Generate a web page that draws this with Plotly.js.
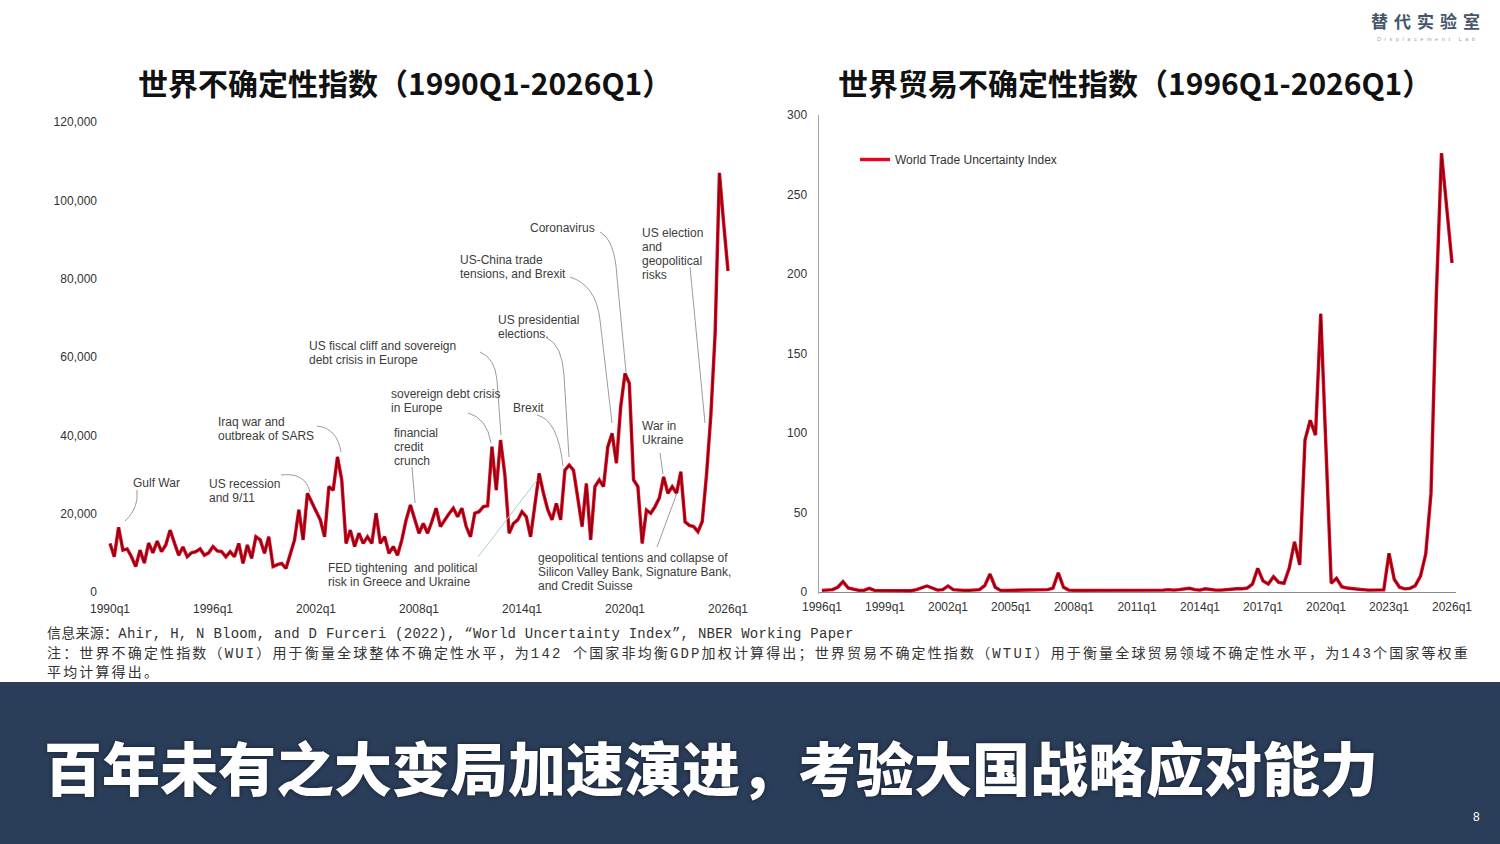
<!DOCTYPE html>
<html>
<head>
<meta charset="utf-8">
<script src="https://cdn.plot.ly/plotly-3.0.1.min.js"></script>
<style>
  html, body { margin: 0; padding: 0; background: #ffffff; }
  #chart { width: 1500px; height: 844px; }
</style>
</head>
<body>
<div id="chart"></div>
<script>
// ---- World Uncertainty Index, quarterly from 1990q1 ----
const wuiStartYear = 1990;
const wuiValues = [
  12400, 9000, 16500, 10700, 11000, 9000, 6500, 10700, 7400, 12500,
  10000, 13000, 10300, 12000, 15800, 12500, 9400, 11500, 9000, 10000,
  10300, 11000, 9400, 10000, 11600, 10500, 10300, 9000, 10300, 9000,
  12400, 7300, 12000, 8600, 14100, 13300, 9900, 14100, 6500, 7000,
  7300, 6000, 9500, 13300, 21000, 13300, 25200, 23000, 20500, 18400,
  14100, 26900, 26000, 34500, 28600, 12400, 15800, 11600, 15000, 12400,
  14100, 12400, 20100, 12400, 14100, 9900, 11600, 9400, 13300, 18400,
  22200, 18400, 15000, 17500, 15000, 18000, 21400, 16700, 18400, 20000,
  21400, 19200, 21400, 16700, 14100, 20100, 20500, 21800, 22000, 37100,
  26000, 38800, 30000, 15000, 17500, 18400, 20500, 19200, 14100, 22000,
  30300, 25200, 21000, 18400, 22600, 18400, 31100, 32400, 31100, 24000,
  16700, 27700, 13300, 26900, 28600, 26900, 37100, 40500, 32900, 47300,
  55800, 53300, 28600, 26900, 12400, 20900, 20100, 21800, 24000, 29400,
  25200, 26900, 25200, 30700, 17900, 17000, 16700, 15400, 18000, 30000,
  45000, 66000, 107000, 94000, 82000
];
const wuiTickYears = [1990, 1996, 2002, 2008, 2014, 2020, 2026];
const wuiTickLabels = ['1990q1', '1996q1', '2002q1', '2008q1', '2014q1', '2020q1', '2026q1'];
const wuiYTicks = [0, 20000, 40000, 60000, 80000, 100000, 120000];

// ---- World Trade Uncertainty Index, quarterly from 1996q1 ----
const wtuiStartYear = 1996;
const wtuiValues = [
  1.0, 1.0, 1.5, 3.0, 6.5, 2.5, 1.5, 1.0, 1.0, 2.3,
  1.0, 1.0, 0.8, 0.8, 0.8, 0.8, 0.8, 0.8, 1.5, 2.5,
  3.8, 2.5, 1.2, 1.5, 3.8, 1.5, 1.0, 1.0, 1.0, 1.0,
  1.5, 4.0, 11.3, 3.0, 1.0, 1.0, 1.0, 1.5, 1.5, 1.5,
  1.5, 1.5, 1.5, 1.5, 2.5, 12.1, 3.0, 1.2, 1.0, 1.0,
  0.8, 0.8, 0.8, 0.8, 1.0, 1.0, 1.0, 1.0, 0.8, 0.8,
  1.0, 1.0, 1.2, 1.0, 1.0, 1.2, 1.5, 1.2, 1.5, 1.8,
  2.3, 1.5, 1.2, 2.0, 1.5, 1.2, 1.2, 1.5, 2.0, 2.0,
  2.0, 2.5, 5.0, 14.9, 7.0, 5.0, 9.6, 6.0, 5.5, 15.0,
  31.6, 17.0, 95.6, 108.0, 98.7, 175.0, 90.0, 5.5, 8.6, 3.3,
  2.5, 2.0, 1.5, 1.5, 1.2, 1.2, 1.5, 1.3, 24.3, 8.0,
  3.0, 2.0, 2.3, 4.0, 10.0, 24.0, 62.0, 185.0, 276.0, 242.0,
  207.0
];
const wtuiTickYears = [1996, 1999, 2002, 2005, 2008, 2011, 2014, 2017, 2020, 2023, 2026];
const wtuiTickLabels = ['1996q1', '1999q1', '2002q1', '2005q1', '2008q1', '2011q1',
                        '2014q1', '2017q1', '2020q1', '2023q1', '2026q1'];
const wtuiYTicks = [0, 50, 100, 150, 200, 250, 300];

// ---- text ----
const leftTitle = '世界不确定性指数（1990Q1-2026Q1）';
const rightTitle = '世界贸易不确定性指数（1996Q1-2026Q1）';
const wtuiName = 'World Trade Uncertainty Index';
const sourceLine = '信息来源：Ahir, H, N Bloom, and D Furceri (2022), “World Uncertainty Index”, NBER Working Paper';
const noteLine1 = '注：世界不确定性指数（WUI）用于衡量全球整体不确定性水平，为142 个国家非均衡GDP加权计算得出；世界贸易不确定性指数（WTUI）用于衡量全球贸易领域不确定性水平，为143个国家等权重';
const noteLine2 = '平均计算得出。';
const bannerText = '百年未有之大变局加速演进，考验大国战略应对能力';
const brandName = '替代实验室';
const brandSub = 'Displacement Lab';
const pageNumber = '8';

// ---- page geometry helpers (pixel -> paper fraction) ----
const W = 1500, H = 844;
const px = x => x / W;
const py = y => 1 - y / H;
const toPaperPath = cmds => cmds.map(c => {
  const [op, ...nums] = c;
  const out = [];
  for (let k = 0; k < nums.length; k += 2) out.push(px(nums[k]).toFixed(5) + ',' + py(nums[k + 1]).toFixed(5));
  return op + out.join(' ');
}).join(' ');

// quarter index -> fractional year on the time axis
const quarterX = (start, n) => Array.from({ length: n }, (_, i) => start + i / 4);
const wuiX = quarterX(wuiStartYear, wuiValues.length);
const wtuiX = quarterX(wtuiStartYear, wtuiValues.length);

// event call-outs on the WUI panel: label lines, label anchor and leader line (page pixels)
const eventNotes = [
  { lines: ['Gulf War'], at: [132, 483], lead: [['M', 137, 490], ['L', 137, 499], ['Q', 135, 512, 125, 521]] },
  { lines: ['US recession', 'and 9/11'], at: [208, 484], lead: [['M', 281, 475], ['Q', 305, 472, 310, 492]] },
  { lines: ['Iraq war and', 'outbreak of SARS'], at: [217, 422], lead: [['M', 317, 426], ['Q', 337, 428, 341, 452]] },
  { lines: ['US fiscal cliff and sovereign', 'debt crisis in Europe'], at: [308, 346], lead: [['M', 480, 352], ['Q', 495, 358, 497, 380], ['L', 501, 435]] },
  { lines: ['sovereign debt crisis', 'in Europe'], at: [390, 394], lead: [['M', 468, 413], ['Q', 487, 418, 491, 443]] },
  { lines: ['financial', 'credit', 'crunch'], at: [393, 433], lead: [['M', 412, 467], ['L', 415, 503]] },
  { lines: ['US presidential', 'elections.'], at: [497, 320], lead: [['M', 547, 338], ['Q', 562, 345, 564, 375], ['L', 569, 457]] },
  { lines: ['US-China trade', 'tensions, and Brexit'], at: [459, 260], lead: [['M', 570, 277], ['Q', 596, 285, 600, 320], ['L', 612, 423]] },
  { lines: ['Coronavirus'], at: [529, 228], lead: [['M', 600, 232], ['Q', 615, 240, 617, 277], ['L', 626, 372]] },
  { lines: ['Brexit'], at: [512, 408], lead: [['M', 537, 415], ['Q', 558, 420, 563, 466]] },
  { lines: ['US election', 'and', 'geopolitical', 'risks'], at: [641, 233], lead: [['M', 690, 267], ['L', 705, 423]] },
  { lines: ['War in', 'Ukraine'], at: [641, 426], lead: [['M', 660, 453], ['L', 663, 474]] },
  { lines: ['FED tightening  and political', 'risk in Greece and Ukraine'], at: [327, 568], lead: [['M', 478, 557], ['L', 537, 480]], leadColor: '#a9cfcf' },
  { lines: ['geopolitical tentions and collapse of', 'Silicon Valley Bank, Signature Bank,', 'and Credit Suisse'], at: [537, 558], lead: [['M', 657, 547], ['L', 677, 493]] }
];

const latin = '"Liberation Sans", Arial, sans-serif';
const cjk = '"Noto Sans CJK SC", "Noto Sans", sans-serif';
const noteFamily = '"Liberation Mono", "Noto Sans CJK SC", monospace';
const tickFont = { family: latin, size: 12, color: '#333333' };

const lineOuter = { color: '#e2061f', width: 3.4 };
const lineInner = { color: '#7c0012', width: 1.3 };

const traces = [
  { x: wuiX, y: wuiValues, xaxis: 'x', yaxis: 'y', mode: 'lines', line: lineOuter, showlegend: false, hoverinfo: 'skip' },
  { x: wuiX, y: wuiValues, xaxis: 'x', yaxis: 'y', mode: 'lines', line: lineInner, showlegend: false, hoverinfo: 'skip' },
  { x: wtuiX, y: wtuiValues, xaxis: 'x2', yaxis: 'y2', mode: 'lines', line: lineOuter, name: wtuiName, showlegend: true },
  { x: wtuiX, y: wtuiValues, xaxis: 'x2', yaxis: 'y2', mode: 'lines', line: lineInner, showlegend: false, hoverinfo: 'skip' }
];

// axis ranges chosen so the tick positions land on the page grid
const leftX0 = 100, leftX1 = 740, leftPxPerYear = 618 / 36;
const leftYTop = 110, leftYBot = 600, leftPxPerUnit = 78.33 / 20000;
const rightX0 = 819, rightX1 = 1456, rightPxPerYear = 21;
const rightYTop = 115, rightYBot = 594.4, rightPxPerUnit = 1.59;

const annotations = [];
const shapes = [];

// banner
shapes.push({ type: 'rect', xref: 'paper', yref: 'paper', x0: 0, x1: 1, y0: 0, y1: py(682),
  fillcolor: '#2a3d59', line: { width: 0 }, layer: 'below' });

eventNotes.forEach(n => {
  n.lines.forEach((t, k) => {
    annotations.push({
      xref: 'paper', yref: 'paper', x: px(n.at[0]), y: py(n.at[1] + 14 * k),
      xanchor: 'left', yanchor: 'middle', align: 'left', showarrow: false, borderpad: 0,
      text: t, font: { family: latin, size: 12, color: '#3c3c3c' }
    });
  });
  shapes.push({ type: 'path', xref: 'paper', yref: 'paper', path: toPaperPath(n.lead),
    line: { color: n.leadColor || '#9c9c9c', width: 1 } });
});

// titles
annotations.push({ xref: 'paper', yref: 'paper', x: px(405), y: py(82), xanchor: 'center', yanchor: 'middle',
  showarrow: false, text: leftTitle, font: { family: cjk, size: 30, color: '#111111', weight: 700 } });
annotations.push({ xref: 'paper', yref: 'paper', x: px(1135), y: py(82), xanchor: 'center', yanchor: 'middle',
  showarrow: false, text: rightTitle, font: { family: cjk, size: 30, color: '#111111', weight: 700 } });

// source and notes
[[sourceLine, 633, 0.25], [noteLine1, 653, 2.15], [noteLine2, 672, 2.15]].forEach(([t, y, ls]) => {
  annotations.push({ xref: 'paper', yref: 'paper', x: px(46), y: py(y), xanchor: 'left', yanchor: 'middle',
    showarrow: false, borderpad: 0,
    text: '<span style="letter-spacing:' + ls + 'px">' + t + '</span>',
    font: { family: noteFamily, size: 14, color: '#333333' } });
});

// banner headline and page number
annotations.push({ xref: 'paper', yref: 'paper', x: px(42), y: py(766), xanchor: 'left', yanchor: 'middle',
  showarrow: false, text: bannerText,
  font: { family: cjk, size: 58, color: '#ffffff', weight: 900, shadow: '0px 0px 4px rgba(0,0,0,0.55)' } });
annotations.push({ xref: 'paper', yref: 'paper', x: px(1476), y: py(817), xanchor: 'center', yanchor: 'middle',
  showarrow: false, text: pageNumber, font: { family: latin, size: 12, color: '#ffffff' } });

// brand mark
annotations.push({ xref: 'paper', yref: 'paper', x: px(1428), y: py(20), xanchor: 'center', yanchor: 'middle',
  showarrow: false, text: '<span style="letter-spacing:6px">' + brandName + '</span>',
  font: { family: cjk, size: 17, color: '#45566a', weight: 700 } });
annotations.push({ xref: 'paper', yref: 'paper', x: px(1428), y: py(39), xanchor: 'center', yanchor: 'middle',
  showarrow: false, text: '<span style="letter-spacing:3.6px">' + brandSub + '</span>',
  font: { family: latin, size: 5.5, color: '#9aa4ae' } });

const layout = {
  width: W, height: H,
  margin: { l: 0, r: 0, t: 0, b: 0, pad: 0 },
  paper_bgcolor: '#ffffff', plot_bgcolor: 'rgba(0,0,0,0)',
  showlegend: true,
  legend: { x: px(855), y: py(145), xanchor: 'left', yanchor: 'top', bgcolor: 'rgba(0,0,0,0)',
    font: { family: latin, size: 12, color: '#333333' }, itemwidth: 30, tracegroupgap: 0 },
  xaxis: {
    domain: [px(leftX0), px(leftX1)],
    range: [1990 - (110 - leftX0) / leftPxPerYear, 2026 + (leftX1 - 728) / leftPxPerYear],
    tickmode: 'array', tickvals: wuiTickYears, ticktext: wuiTickLabels,
    showgrid: false, zeroline: false, showline: false, ticks: '', tickfont: tickFont, anchor: 'y', fixedrange: true
  },
  yaxis: {
    domain: [py(leftYBot), py(leftYTop)],
    range: [-(leftYBot - 592) / leftPxPerUnit, 120000 + (122 - leftYTop) / leftPxPerUnit],
    tickmode: 'array', tickvals: wuiYTicks, tickformat: ',d',
    showgrid: false, zeroline: false, showline: false, ticks: '', ticklabelstandoff: 2,
    tickfont: tickFont, anchor: 'x', fixedrange: true
  },
  xaxis2: {
    domain: [px(rightX0), px(rightX1)],
    range: [1996 - (822 - rightX0) / rightPxPerYear, 2026 + (rightX1 - 1452) / rightPxPerYear],
    tickmode: 'array', tickvals: wtuiTickYears, ticktext: wtuiTickLabels,
    showgrid: false, zeroline: false, showline: false, ticks: '', ticklabelstandoff: 4,
    tickfont: tickFont, anchor: 'y2', fixedrange: true
  },
  yaxis2: {
    domain: [py(rightYBot), py(rightYTop)],
    range: [-(rightYBot - 592) / rightPxPerUnit, 300],
    tickmode: 'array', tickvals: wtuiYTicks,
    showgrid: false, zeroline: true, zerolinecolor: '#8a8a8a', zerolinewidth: 1,
    showline: true, linecolor: '#a6a6a6', linewidth: 1.5,
    ticks: '', ticklabelstandoff: 8, tickfont: tickFont, anchor: 'x2', fixedrange: true
  },
  annotations: annotations,
  shapes: shapes
};

Plotly.newPlot('chart', traces, layout, { displayModeBar: false, staticPlot: true });
</script>
</body>
</html>
